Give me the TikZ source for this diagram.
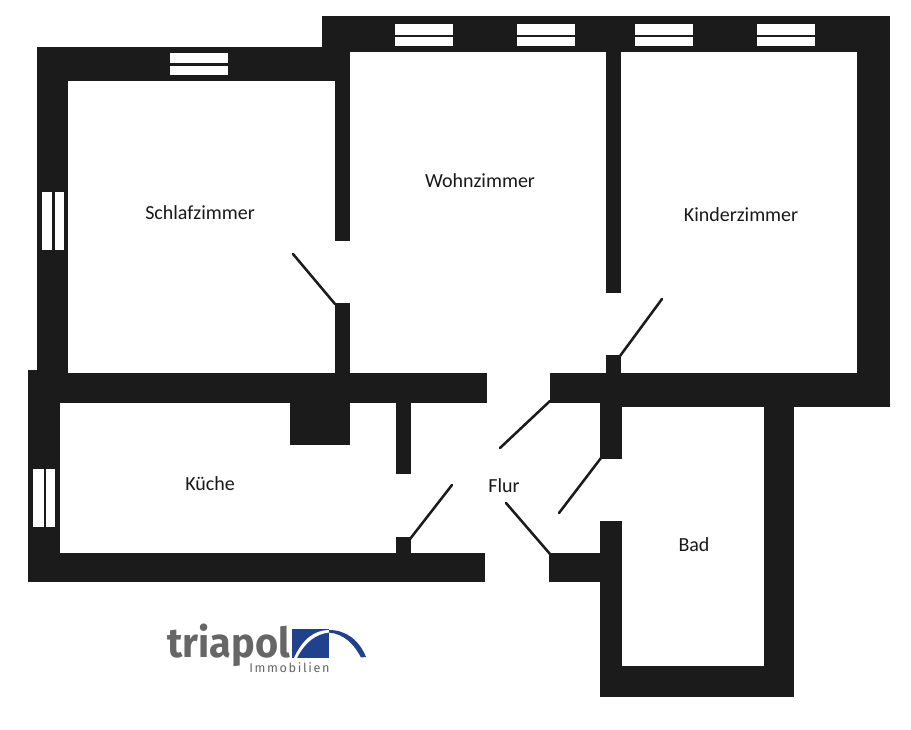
\documentclass[tikz,border=0pt]{standalone}
\usepackage{fontspec}
\setmainfont{Carlito}
\newfontfamily\logofont{Fira Sans}
\definecolor{wallc}{HTML}{1B1B1B}
\definecolor{logoblue}{HTML}{21418C}
\definecolor{logogrey}{HTML}{666666}
\tikzset{
  wallp/.style={fill=wallc,draw=none},
  winp/.style={fill=white,draw=none},
  doorp/.style={draw=wallc,line width=1.9pt,line cap=round},
  room/.style={font=\fontsize{15}{17}\selectfont,text=black!90,inner sep=0pt,anchor=center}
}
\newcommand{\wallr}[4]{\fill[wallp] (#1,#2) rectangle (#3,#4);}
\newcommand{\winr}[4]{\fill[winp] (#1,#2) rectangle (#3,#4);}
\begin{document}
\begin{tikzpicture}[x=0.75pt,y=-0.75pt]
\useasboundingbox (0,0) rectangle (911,730);
\fill[white] (0,0) rectangle (911,730);
% walls
\wallr{322}{16}{890}{52}
\wallr{857}{16}{890}{407}
\wallr{37}{47}{350}{81}
\wallr{37}{47}{68}{373}
\wallr{335}{47}{350}{241}
\wallr{335}{303}{350}{375}
\wallr{606}{52}{621}{293}
\wallr{606}{355}{621}{375}
\wallr{28}{370}{60}{582}
\wallr{28}{373}{487}{403}
\wallr{550}{373}{890}{403}
\wallr{600}{373}{890}{407}
\wallr{600}{403}{622}{459}
\wallr{600}{521}{622}{697}
\wallr{549}{553}{600}{582}
\wallr{600}{666}{794}{697}
\wallr{764}{407}{794}{697}
\wallr{28}{553}{485}{582}
\wallr{290}{403}{350}{445}
\wallr{396}{403}{411}{474}
\wallr{396}{537}{411}{553}
% windows
\winr{170}{53}{228}{63} \winr{170}{66}{228}{75}
\winr{395}{24}{453}{35} \winr{395}{37}{453}{46}
\winr{517}{24}{575}{35} \winr{517}{37}{575}{46}
\winr{635}{24}{693}{35} \winr{635}{37}{693}{46}
\winr{757}{24}{815}{35} \winr{757}{37}{815}{46}
\winr{42}{192}{52}{250} \winr{55}{192}{64}{250}
\winr{33}{469}{44}{527} \winr{46}{469}{55}{527}
% doors
\coordinate (d1a) at (293,254); \coordinate (d1b) at (335,304);
\coordinate (d2a) at (662,299); \coordinate (d2b) at (620,356);
\coordinate (d3a) at (500,448); \coordinate (d3b) at (550,401);
\coordinate (d4a) at (559,513); \coordinate (d4b) at (601,458);
\coordinate (d5a) at (506,503); \coordinate (d5b) at (550,554);
\coordinate (d6a) at (452,485); \coordinate (d6b) at (410,539);
\draw[doorp] (d1a) -- (d1b);
\draw[doorp] (d2a) -- (d2b);
\draw[doorp] (d3a) -- (d3b);
\draw[doorp] (d4a) -- (d4b);
\draw[doorp] (d5a) -- (d5b);
\draw[doorp] (d6a) -- (d6b);
% labels
\node[room] (schlaf) at (200,213) {Schlafzimmer};
\node[room] (wohn) at (480,181) {Wohnzimmer};
\node[room] (kinder) at (741,215) {Kinderzimmer};
\node[room] (kueche) at (210,484) {Küche};
\node[room] (flur) at (504,486) {Flur};
\node[room] (bad) at (694,545) {Bad};
% logo
\fill[logoblue] (292,629) rectangle (329,658);
\fill[white] (297,658) .. controls (305,642) and (316,634) .. (329,632.5) -- (329,630) .. controls (314,630) and (302,640) .. (294,658) -- cycle;
\fill[logoblue] (329,630) .. controls (346,630) and (359,640) .. (366,657) -- (361,657.5) .. controls (354,644) and (344,634) .. (329,632.5) -- cycle;
\node[inner sep=0pt,anchor=base west,text=logogrey,xscale=0.96,font=\logofont\fontsize{31}{31}\selectfont\bfseries] (logotxt) at (167,658) {triapol};
\node[inner sep=0pt,anchor=base west,text=logogrey,font=\logofont\fontsize{9.5}{10}\selectfont] (logosub) at (249,672) {\addfontfeatures{LetterSpace=13}Immobilien};
\end{tikzpicture}
\end{document}
